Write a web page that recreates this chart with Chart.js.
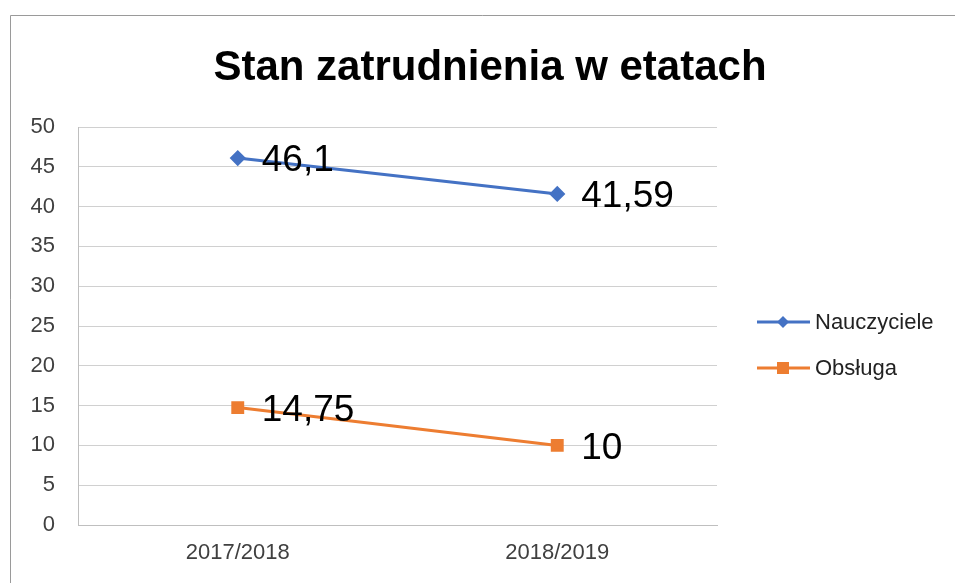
<!DOCTYPE html>
<html>
<head>
<meta charset="utf-8">
<script src="https://cdn.jsdelivr.net/npm/chart.js@4.4.0/dist/chart.umd.min.js"></script>
<style>
  html, body { margin: 0; padding: 0; background: #fff; }
  #wrap { width: 955px; height: 583px; }
</style>
</head>
<body>
<div id="wrap"><canvas id="myChart" width="955" height="583"></canvas></div>
<script>
var ctx = document.getElementById('myChart').getContext('2d');

// dane z wykresu
var chartTitle = 'Stan zatrudnienia w etatach';
var years = ['2017/2018', '2018/2019'];
var nauczyciele = [46.1, 41.59];
var obsluga = [14.75, 10];
var seriesNames = ['Nauczyciele', 'Obsługa'];

var blue = '#4472C4';
var orange = '#ED7D31';
var font = "'Liberation Sans', Arial, sans-serif";

// ramka, tytul, etykiety danych i legenda
var extras = {
    id: 'extras',
    afterDraw: function(chart){
        var c = chart.ctx;
        c.save();
        // ramka wykresu
        c.strokeStyle = '#9a9a9a';
        c.lineWidth = 1;
        c.beginPath();
        c.moveTo(10.5, 583);
        c.lineTo(10.5, 15.5);
        c.lineTo(955, 15.5);
        c.stroke();

        // tytul
        c.fillStyle = '#000';
        c.font = 'bold 42px ' + font;
        c.textAlign = 'center';
        c.textBaseline = 'middle';
        c.fillText(chartTitle, 490, 68);

        // etykiety danych
        c.font = '37px ' + font;
        c.textAlign = 'left';
        chart.data.datasets.forEach(function(ds, i){
            var meta = chart.getDatasetMeta(i);
            meta.data.forEach(function(pt, j){
                var txt = String(ds.data[j]).replace('.', ',');
                c.fillText(txt, pt.x + 24, pt.y + 3);
            });
        });

        // legenda
        var rows = [322, 368];
        c.font = '22px ' + font;
        chart.data.datasets.forEach(function(ds, i){
            var y = rows[i];
            c.strokeStyle = ds.borderColor;
            c.lineWidth = 3;
            c.beginPath();
            c.moveTo(757, y);
            c.lineTo(810, y);
            c.stroke();
            c.fillStyle = ds.borderColor;
            if(ds.pointStyle === 'rectRot'){
                c.beginPath();
                c.moveTo(783, y - 6);
                c.lineTo(789, y);
                c.lineTo(783, y + 6);
                c.lineTo(777, y);
                c.closePath();
                c.fill();
            }else{
                c.fillRect(777, y - 6, 12, 12);
            }
            c.fillStyle = '#222';
            c.textBaseline = 'middle';
            c.fillText(ds.label, 815, y + 1);
        });
        c.restore();
    }
};

var chart = new Chart(ctx, {
    type: 'line',
    data: {
        labels: years,
        datasets: [{
            label: seriesNames[0],
            data: nauczyciele,
            borderColor: blue,
            backgroundColor: blue,
            borderWidth: 3,
            pointStyle: 'rectRot',
            pointRadius: 6,
            pointHoverRadius: 6,
            tension: 0
        }, {
            label: seriesNames[1],
            data: obsluga,
            borderColor: orange,
            backgroundColor: orange,
            borderWidth: 3,
            pointStyle: 'rect',
            pointRadius: 7,
            pointHoverRadius: 7,
            tension: 0
        }]
    },
    options: {
        responsive: false,
        animation: false,
        devicePixelRatio: 1,
        layout: { padding: { left: 10, right: 238, top: 127, bottom: 0 } },
        plugins: {
            legend: { display: false },
            title: { display: false },
            tooltip: { enabled: false }
        },
        scales: {
            x: {
                offset: true,
                grid: { display: false, drawTicks: false },
                border: { display: true, color: '#bfbfbf', width: 1 },
                ticks: { color: '#404040', font: { family: font, size: 22 }, padding: 15 },
                afterFit: function(scale){ scale.height = 58; }
            },
            y: {
                min: 0,
                max: 50,
                ticks: { stepSize: 5, color: '#404040', font: { family: font, size: 22 }, padding: 23 },
                grid: { color: '#d0d0d0', lineWidth: 1, drawTicks: false },
                border: { display: true, color: '#bfbfbf', width: 1 },
                afterFit: function(scale){ scale.width = 68; }
            }
        }
    },
    plugins: [extras]
});
</script>
</body>
</html>
